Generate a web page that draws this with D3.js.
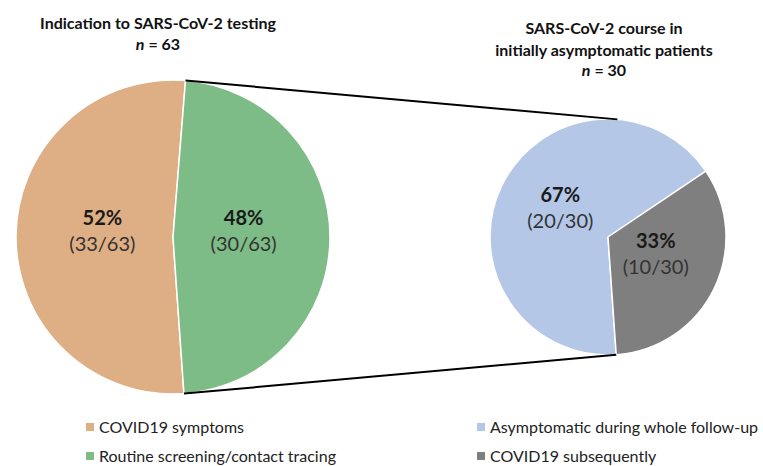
<!DOCTYPE html>
<html>
<head>
<meta charset="utf-8">
<script src="https://cdn.jsdelivr.net/npm/d3@7"></script>
<style>
  html, body { margin: 0; padding: 0; background: #fff; }
  svg { display: block; font-family: Lato, "Open Sans", sans-serif; }
</style>
</head>
<body>
<svg id="chart" width="763" height="466"></svg>
<script>
// ---- data ----
const leftCategories = ["COVID19 symptoms", "Routine screening/contact tracing"];
const leftValues = [33, 30];
const leftColors = ["#DEAE84", "#7DBC87"];
const leftTitle = ["Indication to SARS-CoV-2 testing"];
const leftN = 63;

const rightCategories = ["Asymptomatic during whole follow-up", "COVID19 subsequently"];
const rightValues = [20, 10];
const rightColors = ["#B4C7E7", "#7F7F7F"];
const rightTitle = ["SARS-CoV-2 course in", "initially asymptomatic patients"];
const rightN = 30;

const firstSliceAngle = 176; // degrees, clockwise from 12 o'clock

// ---- layout ----
const svg = d3.select("#chart");
const deg = Math.PI / 180;
const L = { cx: 173, cy: 237, r: 157 };
const R = { cx: 608, cy: 237, r: 118 };

function drawPie(cfg, values, colors, total) {
  const pie = d3.pie().sort(null).value(d => d)
    .startAngle(firstSliceAngle * deg)
    .endAngle(firstSliceAngle * deg + 2 * Math.PI);
  const arcs = pie(values);
  const arc = d3.arc().innerRadius(0).outerRadius(cfg.r);
  const labelArc = d3.arc().innerRadius(cfg.r * 0.9).outerRadius(0);
  const g = svg.append("g").attr("transform", `translate(${cfg.cx},${cfg.cy})`);
  g.selectAll("path").data(arcs).join("path")
    .attr("d", arc)
    .attr("fill", (d, i) => colors[i])
    .attr("stroke", "#fff")
    .attr("stroke-width", 1.5)
    .attr("stroke-linejoin", "round");
  const lab = g.selectAll("g.lab").data(arcs).join("g").attr("class", "lab")
    .attr("transform", d => `translate(${labelArc.centroid(d)})`);
  lab.append("text")
    .attr("text-anchor", "middle").attr("y", -12)
    .attr("font-size", 20).attr("font-weight", "bold").attr("fill", "#1a1a1a")
    .text(d => Math.round(d.value / total * 100) + "%");
  lab.append("text")
    .attr("text-anchor", "middle").attr("y", 14)
    .attr("font-size", 20).attr("fill", "#333")
    .text(d => `(${d.value}/${total})`);
  return arcs;
}

function pointAt(cfg, a) {
  return [cfg.cx + cfg.r * Math.sin(a), cfg.cy - cfg.r * Math.cos(a)];
}

const la = drawPie(L, leftValues, leftColors, d3.sum(leftValues));
const ra = drawPie(R, rightValues, rightColors, d3.sum(rightValues));

// connector lines: from the exploded (second) left slice to the right pie
const g2 = la[1];
const rb = ra[1];
const lp1 = pointAt(L, g2.startAngle), lp2 = pointAt(L, g2.endAngle);
const rp1 = pointAt(R, g2.startAngle), rp2 = pointAt(R, rb.endAngle);
const line = d3.line();
svg.append("path").attr("d", line([lp1, rp1])).attr("stroke", "#000").attr("stroke-width", 2).attr("fill", "none");
svg.append("path").attr("d", line([lp2, rp2])).attr("stroke", "#000").attr("stroke-width", 2).attr("fill", "none");

// ---- titles ----
function title(x, y, lines, n) {
  const t = svg.append("g").attr("font-weight", "bold").attr("font-size", 16).attr("fill", "#111")
    .attr("text-anchor", "middle");
  lines.forEach((s, i) => t.append("text").attr("x", x).attr("y", y + i * 22).text(s));
  const nt = t.append("text").attr("x", x).attr("y", y + lines.length * 21);
  nt.append("tspan").attr("font-style", "italic").text("n");
  nt.append("tspan").text(" = " + n);
}
title(158, 29, leftTitle, leftN);
title(604, 34, rightTitle, rightN);

// ---- legends ----
function legend(x, y, cats, colors) {
  const g = svg.append("g").attr("font-size", 16).attr("fill", "#222");
  cats.forEach((c, i) => {
    const row = g.append("g").attr("transform", `translate(${x},${y + i * 29})`);
    row.append("rect").attr("x", 0).attr("y", -10).attr("width", 8).attr("height", 8).attr("fill", colors[i]);
    row.append("text").attr("x", 13).attr("y", 0).text(c);
  });
}
legend(86, 433, leftCategories, leftColors);
legend(477, 433, rightCategories, rightColors);
</script>
</body>
</html>
